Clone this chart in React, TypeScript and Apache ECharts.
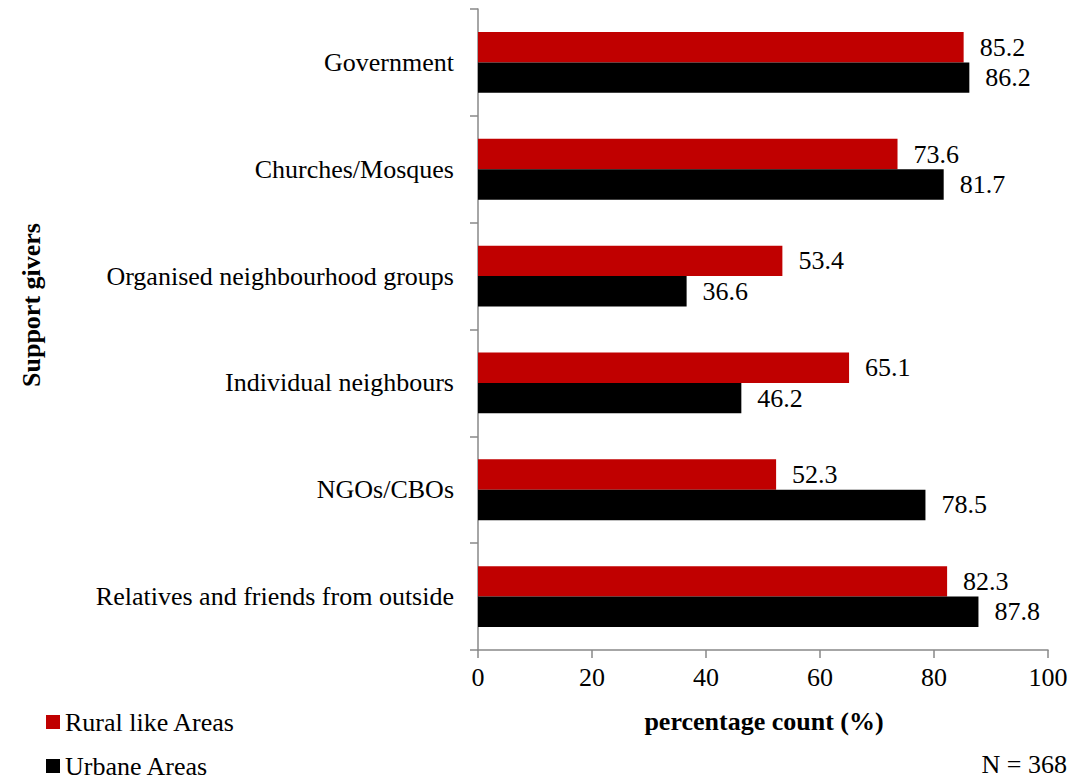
import React, { useEffect, useRef } from "react";
import * as echarts from "echarts";

const categories = [
  "Government",
  "Churches/Mosques",
  "Organised neighbourhood groups",
  "Individual neighbours",
  "NGOs/CBOs",
  "Relatives and friends from outside",
];
const ruralValues = [85.2, 73.6, 53.4, 65.1, 52.3, 82.3];
const urbanValues = [86.2, 81.7, 36.6, 46.2, 78.5, 87.8];
const seriesNames = ["Rural like Areas", "Urbane Areas"];
const xTicks = { min: 0, max: 100, interval: 20 };

const FONT = '"Times New Roman", "Liberation Serif", serif';
const AXIS_GRAY = "#898989";
const FS = 26;

export default function App() {
  const ref = useRef<HTMLDivElement>(null);
  useEffect(() => {
    if (!ref.current) return;
    const chart = echarts.init(ref.current, undefined, { renderer: "svg" });
    const label = {
      show: true,
      position: "right",
      distance: 16,
      fontFamily: FONT,
      fontSize: FS,
      color: "#000",
      formatter: (p: any) => p.value.toFixed(1),
    };
    const legendBase = {
      orient: "vertical",
      left: 46,
      padding: 0,
      itemWidth: 14,
      itemHeight: 14,
      itemGap: 5,
      icon: "rect",
      textStyle: { fontFamily: FONT, fontSize: FS, color: "#000" },
    };
    chart.setOption({
      animation: false,
      backgroundColor: "#fff",
      textStyle: { fontFamily: FONT },
      grid: { left: 478, right: 26, top: 9, bottom: 130, containLabel: false },
      legend: [
        { ...legendBase, top: 709, data: [seriesNames[0]] },
        { ...legendBase, top: 753, data: [seriesNames[1]] },
      ],
      xAxis: {
        type: "value",
        min: xTicks.min,
        max: xTicks.max,
        interval: xTicks.interval,
        axisLine: { show: true, lineStyle: { color: AXIS_GRAY, width: 1.5 } },
        axisTick: { show: true, length: 8, lineStyle: { color: AXIS_GRAY, width: 1.5 } },
        splitLine: { show: false },
        axisLabel: { fontFamily: FONT, fontSize: FS, color: "#000", margin: 14 },
      },
      yAxis: {
        type: "category",
        data: categories,
        inverse: true,
        axisLine: { show: true, lineStyle: { color: AXIS_GRAY, width: 1.5 } },
        axisTick: { show: true, length: 8, lineStyle: { color: AXIS_GRAY, width: 1.5 } },
        axisLabel: { fontFamily: FONT, fontSize: FS, color: "#000", margin: 24 },
      },
      series: [
        {
          name: seriesNames[0],
          type: "bar",
          data: ruralValues,
          itemStyle: { color: "#C00000" },
          barGap: "0%",
          barCategoryGap: "43%",
          label,
        },
        {
          name: seriesNames[1],
          type: "bar",
          data: urbanValues,
          itemStyle: { color: "#000000" },
          barGap: "0%",
          barCategoryGap: "43%",
          label,
        },
      ],
      graphic: [
        {
          type: "text",
          x: 764,
          y: 721,
          style: {
            text: "percentage count (%)",
            font: `bold ${FS}px ${FONT}`,
            fill: "#000",
            align: "center",
            verticalAlign: "middle",
          },
        },
        {
          type: "text",
          x: 31,
          y: 305,
          rotation: Math.PI / 2,
          style: {
            text: "Support givers",
            font: `bold ${FS}px ${FONT}`,
            fill: "#000",
            align: "center",
            verticalAlign: "middle",
          },
        },
        {
          type: "text",
          x: 1067,
          y: 764,
          style: {
            text: "N = 368",
            font: `${FS}px ${FONT}`,
            fill: "#000",
            align: "right",
            verticalAlign: "middle",
          },
        },
      ],
    });
    return () => chart.dispose();
  }, []);
  return (
    <div
      ref={ref}
      style={{ position: "fixed", left: 0, top: 0, width: 1074, height: 780, background: "#fff" }}
    />
  );
}
